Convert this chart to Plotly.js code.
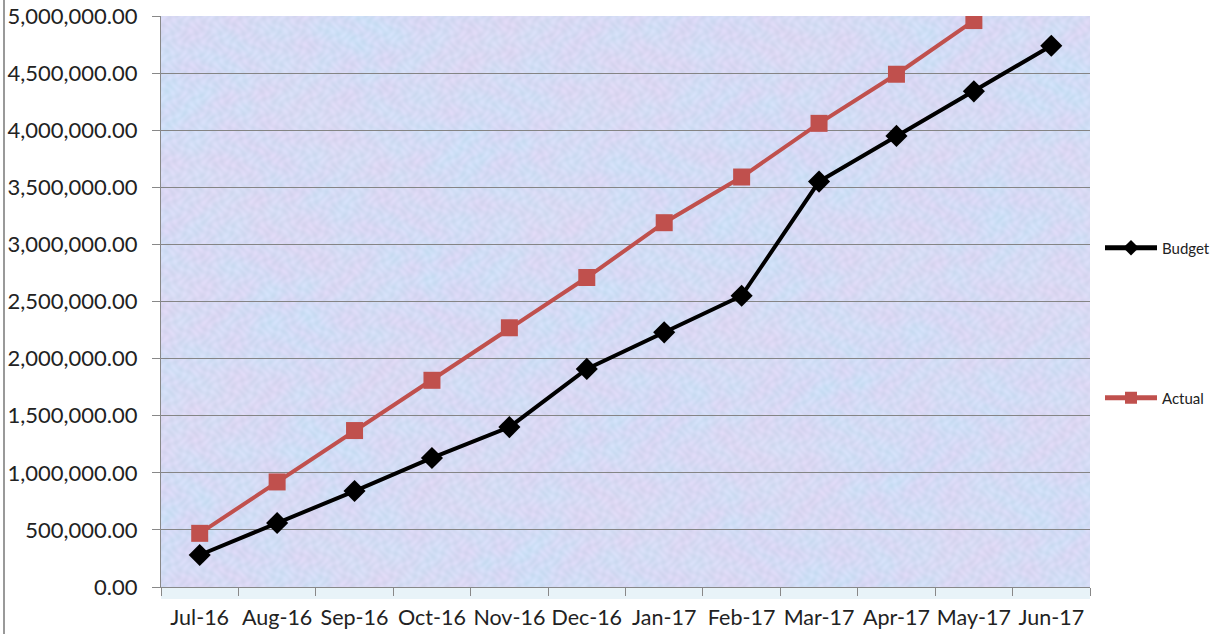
<!DOCTYPE html>
<html>
<head>
<meta charset="utf-8">
<script src="https://cdn.plot.ly/plotly-3.0.1.min.js"></script>
<style>html,body{margin:0;padding:0;background:#fff;}#chart{width:1223px;height:634px;}</style>
</head>
<body>
<div id="chart"></div>
<script>
const months = ["Jul-16","Aug-16","Sep-16","Oct-16","Nov-16","Dec-16","Jan-17","Feb-17","Mar-17","Apr-17","May-17","Jun-17"];
const budget = [280000, 560000, 840000, 1130000, 1400000, 1910000, 2230000, 2550000, 3550000, 3950000, 4340000, 4740000];
const actual = [470000, 920000, 1370000, 1810000, 2270000, 2710000, 3190000, 3590000, 4060000, 4490000, 4960000, null];
const yTicks = [0, 500000, 1000000, 1500000, 2000000, 2500000, 3000000, 3500000, 4000000, 4500000, 5000000];

// Decorative mottled background texture (deterministic pattern, style only)
function makeTexture(w, h) {
  const c = document.createElement("canvas");
  c.width = w; c.height = h;
  const ctx = c.getContext("2d");
  const img = ctx.createImageData(w, h);
  const blue = [202, 225, 247], lav = [217, 214, 244], pink = [230, 214, 238];
  for (let y = 0; y < h; y++) {
    for (let x = 0; x < w; x++) {
      const a = Math.sin(x * 0.083 + 2.1 * Math.sin(y * 0.061 + x * 0.013)) * Math.cos(y * 0.097 + 1.7 * Math.sin(x * 0.047 - y * 0.011));
      const b = Math.sin(x * 0.021 + 1.5 * Math.sin(y * 0.017)) * Math.cos(y * 0.029 + 1.2 * Math.sin(x * 0.015 + 0.7));
      const f = Math.sin(x * 0.53 + 1.3 * Math.sin(y * 0.31)) * Math.sin(y * 0.47 + 1.1 * Math.sin(x * 0.27));
      let t1 = 0.5 + 0.38 * a + 0.12 * f;
      let t2 = 0.5 + 0.5 * b;
      t1 = Math.max(0, Math.min(1, t1)); t2 = Math.max(0, Math.min(1, t2));
      const i = (y * w + x) * 4;
      for (let k = 0; k < 3; k++) {
        const mid = blue[k] * (1 - t1) + lav[k] * t1;
        img.data[i + k] = mid * (1 - t2 * 0.35) + pink[k] * t2 * 0.35 + 5 * f;
      }
      img.data[i + 3] = 255;
    }
  }
  ctx.putImageData(img, 0, 0);
  return c.toDataURL("image/png");
}

const fontFam = "Lato, 'Noto Sans', sans-serif";
const traces = [
  {x: months, y: budget, name: "Budget", type: "scatter", mode: "lines+markers",
   line: {color: "#000000", width: 4}, marker: {symbol: "diamond", size: 17, color: "#000000"}, legend: "legend"},
  {x: months, y: actual, name: "Actual", type: "scatter", mode: "lines+markers",
   line: {color: "#c0504d", width: 4}, marker: {symbol: "square", size: 17, color: "#c0504d"}, legend: "legend2"}
];
const legendCommon = {xref: "container", yref: "container", xanchor: "left", yanchor: "middle", bgcolor: "rgba(0,0,0,0)",
                      font: {family: fontFam, size: 15, color: "#222"}, itemwidth: 52, itemsizing: "constant"};
const layout = {
  width: 1223, height: 634,
  margin: {l: 161, r: 133, t: 16, b: 47},
  paper_bgcolor: "#ffffff",
  plot_bgcolor: "#d4ddf5",
  showlegend: true,
  font: {family: fontFam, color: "#222"},
  xaxis: {type: "category", range: [-0.5, 11.5], tickson: "boundaries", ticks: "outside", ticklen: 8, tickcolor: "#888",
          tickangle: 0, showline: true, linecolor: "#888", linewidth: 1, showgrid: false, ticklabelstandoff: 11,
          tickfont: {family: fontFam, size: 21.5, color: "#222"}},
  yaxis: {range: [0, 5000000], tickvals: yTicks, ticktext: yTicks.map(v => v.toLocaleString("en-US", {minimumFractionDigits: 2, maximumFractionDigits: 2})),
          ticks: "outside", ticklen: 8, tickcolor: "#888", showline: true, linecolor: "#888", ticklabelstandoff: 10,
          gridcolor: "#858585", gridwidth: 1, zeroline: false,
          tickfont: {family: fontFam, size: 22, color: "#222"}},
  legend: Object.assign({x: 1100 / 1223, y: 1 - 248 / 634}, legendCommon),
  legend2: Object.assign({x: 1100 / 1223, y: 1 - 398 / 634}, legendCommon),
  images: [{source: makeTexture(929, 571), xref: "paper", yref: "paper", x: 0, y: 1, sizex: 1, sizey: 1,
            sizing: "stretch", xanchor: "left", yanchor: "top", layer: "below"}],
  shapes: [
    {type: "line", xref: "paper", yref: "paper", x0: -157/929, x1: -157/929, y0: -47/571, y1: 1 + 16/571, line: {color: "#999", width: 2}},
    {type: "rect", xref: "paper", yref: "paper", x0: 0, x1: 1, y0: -12/571, y1: 0, fillcolor: "#e8f3f8", line: {width: 0}, layer: "below"}
  ]
};
Plotly.newPlot("chart", traces, layout, {displayModeBar: false});
</script>
</body>
</html>
